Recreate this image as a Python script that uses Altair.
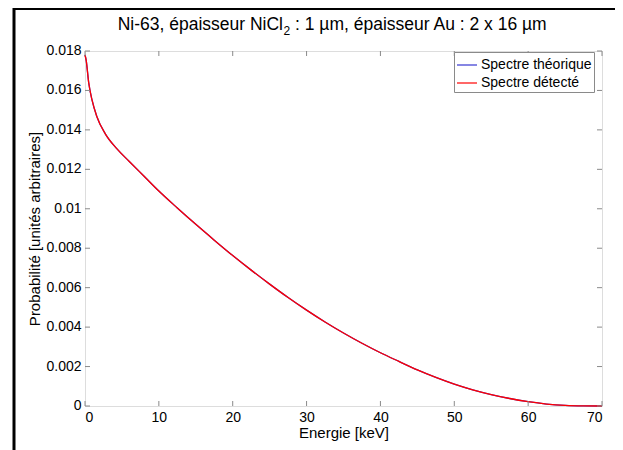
import altair as alt
import pandas as pd

# Data
energy = [0, 0.15, 0.5, 0.95, 1.6, 2.75, 4.3, 6, 8, 10, 12.5, 15, 17.5, 20,
          22.5, 25, 27.5, 30, 32.5, 35, 37.5, 40, 42.5, 45, 47.5, 50, 52.5,
          55, 57.5, 60, 62.5, 65, 67.5, 70]
detected = [0.0178, 0.01755, 0.0164, 0.01552, 0.01468, 0.0138, 0.01305,
            0.0124, 0.01165, 0.0109, 0.01004, 0.00921, 0.00841, 0.00763,
            0.00689, 0.00618, 0.0055, 0.00486, 0.00426, 0.0037, 0.00318,
            0.0027, 0.00226, 0.00183, 0.00145, 0.00111, 0.00082, 0.00058,
            0.00038, 0.00022, 0.0001, 0.00003, 0.000005, 0.0]
theoretical = list(detected)

series_names = ["Spectre théorique", "Spectre détecté"]
series_colors = ["#3535d0", "#ff0000"]
x_ticks = [0, 10, 20, 30, 40, 50, 60, 70]
y_ticks = [0, 0.002, 0.004, 0.006, 0.008, 0.01, 0.012, 0.014, 0.016, 0.018]
title_part1 = "Ni-63, épaisseur NiCl"
title_sub = "2"
title_part2 = ": 1 µm, épaisseur Au : 2 x 16 µm"

W, H = 517, 355
GRAY = "#8a8a8a"
FONT = "Liberation Sans"

df_th = pd.DataFrame({"E": energy, "P": theoretical, "S": series_names[0]})
df_de = pd.DataFrame({"E": energy, "P": detected, "S": series_names[1]})
df_xt = pd.DataFrame({"t": x_ticks})
df_yt = pd.DataFrame({"t": y_ticks})
one = pd.DataFrame({"a": [0]})

xscale = alt.Scale(domain=[0, 70], nice=False, zero=False)
yscale = alt.Scale(domain=[0, 0.018], nice=False, zero=False)
cscale = alt.Scale(domain=series_names, range=series_colors)

xaxis = alt.Axis(values=x_ticks, title="Energie [keV]", grid=False, domain=False,
                 ticks=False, labelPadding=4, titlePadding=1, labelFontSize=14,
                 titleFontSize=15, labelColor="black", titleColor="black",
                 labelFont=FONT, titleFont=FONT, titleFontWeight="normal",
                 labelOverlap=False)
yaxis = alt.Axis(values=y_ticks, labels=False, title="Probabilité [unités arbitraires]",
                 grid=False, domain=False, ticks=False, titlePadding=43,
                 titleFontSize=15, titleColor="black", titleFont=FONT,
                 titleFontWeight="normal")

legend = alt.Legend(title=None, orient="none", legendX=369, legendY=1,
                    strokeColor=GRAY, fillColor="white", padding=2,
                    symbolType="stroke", symbolSize=400, symbolStrokeWidth=1.2,
                    labelFontSize=14, labelFont=FONT, labelOffset=3,
                    rowPadding=0, labelColor="black")

line_th = alt.Chart(df_th).mark_line(strokeWidth=1.3, interpolate="monotone").encode(
    x=alt.X("E:Q", scale=xscale, axis=xaxis),
    y=alt.Y("P:Q", scale=yscale, axis=yaxis),
    color=alt.Color("S:N", scale=cscale, legend=legend),
)
line_de = alt.Chart(df_de).mark_line(strokeWidth=1.3, interpolate="monotone").encode(
    x="E:Q",
    y="P:Q",
    color="S:N",
)

tick_b = alt.Chart(df_xt).mark_rule(color=GRAY).encode(
    x="t:Q", y=alt.value(H), y2=alt.value(H - 5))
tick_t = alt.Chart(df_xt).mark_rule(color=GRAY).encode(
    x="t:Q", y=alt.value(0), y2=alt.value(5))
tick_l = alt.Chart(df_yt).mark_rule(color=GRAY).encode(
    y="t:Q", x=alt.value(0), x2=alt.value(5))
tick_r = alt.Chart(df_yt).mark_rule(color=GRAY).encode(
    y="t:Q", x=alt.value(W), x2=alt.value(W - 5))

ylabels = alt.Chart(df_yt).mark_text(
    fontSize=14, font=FONT, color="black", align="right", baseline="middle").encode(
    y="t:Q", x=alt.value(-3.5), text=alt.Text("t:Q", format=".3~f"))

frame = alt.Chart(one).mark_rect(filled=False, stroke="black", strokeWidth=3).encode(
    x=alt.value(-71), x2=alt.value(532), y=alt.value(-42.5), y2=alt.value(430))

t1 = alt.Chart(one).mark_text(
    text=title_part1, fontSize=17.5, font=FONT, color="black",
    align="right", baseline="alphabetic").encode(
    x=alt.value(198), y=alt.value(-21))
t2 = alt.Chart(one).mark_text(
    text=title_sub, fontSize=12, font=FONT, color="black",
    align="left", baseline="alphabetic").encode(
    x=alt.value(198.5), y=alt.value(-16))
t3 = alt.Chart(one).mark_text(
    text=title_part2, fontSize=17.5, font=FONT, color="black",
    align="left", baseline="alphabetic").encode(
    x=alt.value(210), y=alt.value(-21))

chart = alt.layer(line_th, line_de, frame, t1, t2, t3,
                  tick_b, tick_t, tick_l, tick_r, ylabels).properties(
    width=W, height=H,
    autosize=alt.AutoSizeParams(type="none"),
    padding={"left": 77, "top": 43, "right": 13, "bottom": 60},
).configure_view(stroke=GRAY, strokeWidth=1).configure(background="white")

chart.save("out.html", embed_options={"renderer": "svg", "actions": False})
